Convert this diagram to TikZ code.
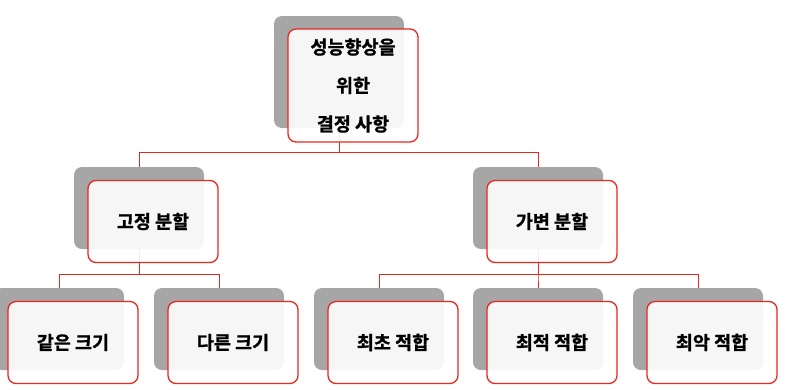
\documentclass[tikz,border=0pt]{standalone}
\usepackage{fontspec}
\setmainfont{Noto Sans CJK KR Bold}[FakeBold=1.2]
\definecolor{shadowgray}{HTML}{A6A6A6}
\definecolor{boxred}{HTML}{E8281E}
\tikzset{
  back/.style={fill=shadowgray, rounded corners=8pt, minimum width=130pt, minimum height=82pt, inner sep=0pt},
  front/.style={draw=boxred, line width=1.3pt, fill=white, fill opacity=0.9, text opacity=1, rounded corners=8pt,
    minimum width=130pt, minimum height=82pt, inner sep=0pt, font=\fontsize{18.5}{38.5}\selectfont, align=center},
  conn/.style={draw=boxred, line width=0.9pt}
}
\begin{document}
\begin{tikzpicture}[x=1pt,y=-1pt]
    \useasboundingbox (0,0) rectangle (786,389);
    % Cajas grises de fondo
    \node[back, minimum height=112pt] (g0) at (339,72) {};
    \node[back] (gfix) at (139,208) {};
    \node[back] (gvar) at (538,208) {};
    \node[back] (gsame) at (59,329) {};
    \node[back] (gdiff) at (219,329) {};
    \node[back] (gfirst) at (379,329) {};
    \node[back] (gbest) at (538,329) {};
    \node[back] (gworst) at (698,329) {};

    % Conectores
    \draw[conn] (g0.south) |- ([yshift=14pt]gfix.north) -- (gfix.north);
    \draw[conn] (g0.south) |- ([yshift=14pt]gvar.north) -- (gvar.north);
    \draw[conn] (gfix.south) |- ([yshift=13pt]gsame.north) -- (gsame.north);
    \draw[conn] (gfix.south) |- ([yshift=13pt]gdiff.north) -- (gdiff.north);
    \draw[conn] (gvar.south) |- ([yshift=13pt]gfirst.north) -- (gfirst.north);
    \draw[conn] (gvar.south) |- ([yshift=13pt]gbest.north) -- (gbest.north);
    \draw[conn] (gvar.south) |- ([yshift=13pt]gworst.north) -- (gworst.north);

    % Cajas rojas con texto
    \node[front, minimum height=113pt] (root) at ([shift={(14,13.5)}]g0) {성능향상을\\위한\\결정 사항};
    \node[front] (fix) at ([shift={(14,13.5)}]gfix) {고정 분할};
    \node[front] (var) at ([shift={(14,13.5)}]gvar) {가변 분할};
    \node[front] (same) at ([shift={(14,13.5)}]gsame) {같은 크기};
    \node[front] (diff) at ([shift={(14,13.5)}]gdiff) {다른 크기};
    \node[front] (first) at ([shift={(14,13.5)}]gfirst) {최초 적합};
    \node[front] (best) at ([shift={(14,13.5)}]gbest) {최적 적합};
    \node[front] (worst) at ([shift={(14,13.5)}]gworst) {최악 적합};
\end{tikzpicture}
\end{document}
